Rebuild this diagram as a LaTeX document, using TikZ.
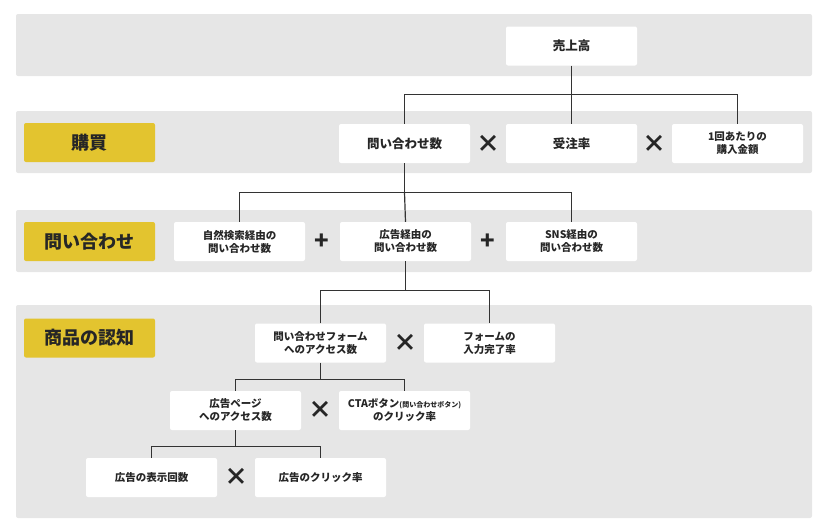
\documentclass[tikz,border=0pt]{standalone}
\usepackage{fontspec}
\setmainfont{Noto Sans CJK JP}
\usetikzlibrary{calc}
\definecolor{bandgray}{HTML}{E6E6E6}
\definecolor{tagyellow}{HTML}{E3C42F}
\definecolor{linegray}{HTML}{333333}
\begin{document}
\begin{tikzpicture}[x=1pt,y=-1pt,
    band/.style={fill=bandgray,rounded corners=2pt},
    tag/.style={fill=tagyellow,rounded corners=2pt,minimum width=131pt,minimum height=39pt,
        font=\bfseries\fontsize{18}{20}\selectfont,text=black!85},
    box/.style={fill=white,rounded corners=2pt,minimum width=131pt,minimum height=39pt,
        align=center,font=\bfseries\fontsize{10.5}{13}\selectfont,text=black!85},
    big/.style={font=\bfseries\fontsize{12.5}{14}\selectfont},
    op/.style={font=\bfseries\fontsize{24}{24}\selectfont,text=black!85},
    link/.style={draw=linegray,line width=1.2pt}]
    \useasboundingbox (0,0) rectangle (828,531);
    % bands
    \fill[band] (16,14) rectangle (812,76);
    \fill[band] (16,111) rectangle (812,173);
    \fill[band] (16,210) rectangle (812,272);
    \fill[band] (16,305) rectangle (812,518);
    % tags
    \node[tag] (kobai) at (89.5,142.5) {購買};
    \node[tag] (toiawase) at (89.5,241.5) {問い合わせ};
    \node[tag] (ninchi) at (89.5,338) {商品の認知};
    % boxes
    \node[box,big] (sales) at (571.5,46) {売上高};
    \node[box,big] (inq) at (404.5,143.5) {問い合わせ数};
    \node[box,big] (rate) at (571.5,143.5) {受注率};
    \node[box] (price) at (737.5,143.5) {1回あたりの\\購入金額};
    \node[box] (organic) at (239.5,241.5) {自然検索経由の\\問い合わせ数};
    \node[box] (ads) at (405.5,241.5) {広告経由の\\問い合わせ数};
    \node[box] (sns) at (571.5,241.5) {SNS経由の\\問い合わせ数};
    \node[box] (form) at (320.5,343) {問い合わせフォーム\\へのアクセス数};
    \node[box] (done) at (489.5,343) {フォームの\\入力完了率};
    \node[box] (page) at (235.5,410.5) {広告ページ\\へのアクセス数};
    \node[box] (cta) at (404.5,410.5) {CTAボタン{\fontsize{7}{8}\selectfont (問い合わせボタン)}\\のクリック率};
    \node[box] (imp) at (151.5,477.5) {広告の表示回数};
    \node[box] (ctr) at (320.5,477.5) {広告のクリック率};
    % operators
    \node[op] (op1) at (488,144) {×};
    \node[op] (op2) at (654,144) {×};
    \node[op] (op3) at (322,242) {+};
    \node[op] (op4) at (488,242) {+};
    \node[op] (op5) at (405,343) {×};
    \node[op] (op6) at (320,410) {×};
    \node[op] (op7) at (236,477) {×};
    % connectors
    \draw[link] (sales.south) -- ++(0,29) coordinate (j1);
    \draw[link] (inq.north) |- (j1) -| (price.north);
    \draw[link] (j1) -- (rate.north);
    \draw[link] (inq.south) -- ++(0,29) coordinate (j2);
    \draw[link] (organic.north) |- (j2) -| (sns.north);
    \draw[link] (j2) -- (ads.north);
    \draw[link] (ads.south) -- ++(0,29) coordinate (j3);
    \draw[link] (form.north) |- (j3) -| (done.north);
    \draw[link] (form.south) -- ++(0,17) coordinate (j4);
    \draw[link] (page.north) |- (j4) -| (cta.north);
    \draw[link] (page.south) -- ++(0,16) coordinate (j5);
    \draw[link] (imp.north) |- (j5) -| (ctr.north);
\end{tikzpicture}
\end{document}
